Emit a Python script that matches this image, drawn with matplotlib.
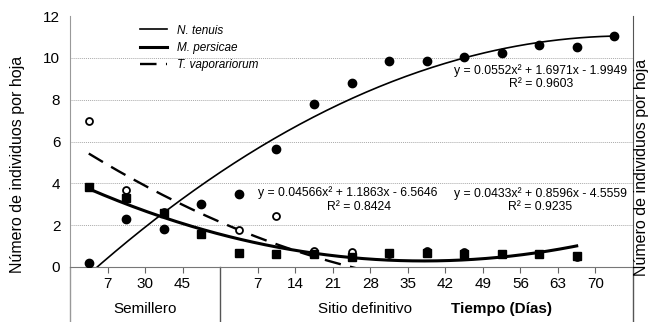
import matplotlib.pyplot as plt
import matplotlib.transforms as mtransforms
import numpy as np

plt.rcParams['font.family'] = ['Liberation Sans', 'DejaVu Sans']

# valores (15 muestreos: 4 en semillero + 11 en sitio definitivo)
n_tenuis = [0.18, 2.3, 1.82, 3.0, 3.48, 5.63, 7.8, 8.8, 9.83, 9.83, 10.06, 10.25, 10.59, 10.51, 11.02]
m_persicae = [3.83, 3.3, 2.6, 1.58, 0.66, 0.62, 0.62, 0.49, 0.66, 0.66, 0.62, 0.62, 0.62, 0.53]
t_vapor = [6.99, 3.68, 2.65, 1.6, 1.77, 2.44, 0.78, 0.7, 0.62, 0.76, 0.73, 0.6, 0.6, 0.5]

# coeficientes de las lineas de tendencia (x = numero de muestreo)
coef_tenuis = [-0.0552, 1.6971, -1.9949]
coef_persicae = [0.0433, -0.8596, 4.5559]
coef_vapor = [0.04566, -1.1863, 6.5646]

eq_tenuis = ['y = 0.0552x² + 1.6971x - 1.9949', 'R² = 0.9603']
eq_vapor = ['y = 0.04566x² + 1.1863x - 6.5646', 'R² = 0.8424']
eq_persicae = ['y = 0.0433x² + 0.8596x - 4.5559', 'R² = 0.9235']

tick_labels = ['7', '30', '45', '7', '14', '21', '28', '35', '42', '49', '56', '63', '70']
tick_pos = [1, 2, 3, 5, 6, 7, 8, 9, 10, 11, 12, 13, 14]

fig = plt.figure(figsize=(6.5, 3.22), dpi=100)
ax = fig.add_axes([70 / 650, 55 / 322, 563 / 650, 251 / 322])

def slots(n):
    return np.arange(n) + 0.5

def trend(coef, n):
    xs = np.linspace(1, n, 200)
    return xs - 0.5, np.polyval(coef, xs)

# tendencias
x, y = trend(coef_tenuis, len(n_tenuis))
ax.plot(x, y, color='black', lw=1.2, label='N. tenuis', zorder=3)
x, y = trend(coef_persicae, len(m_persicae))
ax.plot(x, y, color='black', lw=2.2, label='M. persicae', zorder=3)
x, y = trend(coef_vapor, len(t_vapor))
ax.plot(x, y, color='black', lw=1.7, dashes=(7, 4), label='T. vaporariorum', zorder=3)

# puntos
ax.plot(slots(len(t_vapor)), t_vapor, 'o', ms=5, mfc='white', mec='black', mew=1.3, zorder=4)
ax.plot(slots(len(m_persicae)), m_persicae, 's', ms=5.5, color='black', zorder=5)
ax.plot(slots(len(n_tenuis)), n_tenuis, 'o', ms=6, color='black', zorder=5)

ax.set_xlim(0, 15)
ax.set_ylim(0, 12)
ax.set_yticks(np.arange(0, 13, 2))
ax.set_xticks(tick_pos)
ax.set_xticklabels(tick_labels)
ax.tick_params(axis='y', length=0, labelsize=11, pad=7)
ax.tick_params(axis='x', length=4, color='#666666', labelsize=11, pad=3)

ax.yaxis.grid(True, linestyle=(0, (1, 1)), color='#aaaaaa', lw=0.7)
ax.get_ygridlines()[-1].set_visible(False)
ax.get_ygridlines()[0].set_visible(False)
ax.set_axisbelow(True)

ax.spines['top'].set_visible(False)
ax.spines['left'].set_color('#999999')
ax.spines['bottom'].set_color('#777777')
ax.spines['right'].set_color('#555555')

# lineas de separacion bajo el eje
trans = mtransforms.blended_transform_factory(ax.transData, ax.transAxes)
for xv, c in [(0, '#999999'), (4, '#555555'), (15, '#555555')]:
    ax.plot([xv, xv], [0, -0.25], color=c, lw=1, transform=trans, clip_on=False)

ax.text(2, -0.167, 'Semillero', transform=trans, ha='center', va='center', fontsize=11)
ax.text(7.85, -0.167, 'Sitio definitivo', transform=trans, ha='center', va='center', fontsize=11)
ax.text(11.5, -0.167, 'Tiempo (Días)', transform=trans, ha='center', va='center',
        fontsize=11, fontweight='bold')

# ecuaciones
ax.text(12.55, 9.4, eq_tenuis[0], ha='center', va='center', fontsize=8.8)
ax.text(12.55, 8.75, eq_tenuis[1], ha='center', va='center', fontsize=8.8)
ax.text(7.4, 3.55, eq_vapor[0], ha='center', va='center', fontsize=8.8)
ax.text(7.7, 2.85, eq_vapor[1], ha='center', va='center', fontsize=8.8)
ax.text(12.53, 3.5, eq_persicae[0], ha='center', va='center', fontsize=8.8)
ax.text(12.53, 2.85, eq_persicae[1], ha='center', va='center', fontsize=8.8)

leg = ax.legend(loc='upper left', bbox_to_anchor=(140 / 650, (322 - 24.5) / 322),
                bbox_transform=fig.transFigure, frameon=False,
                prop={'style': 'italic', 'size': 8.5}, handlelength=2.3,
                handletextpad=0.85, labelspacing=0.45, borderpad=0, borderaxespad=0)

fig.text(18 / 650, 0.49, 'Número de individuos por hoja', rotation=90,
         ha='center', va='center', fontsize=11.5)
fig.text(641.5 / 650, 0.48, 'Número de individuos por hoja', rotation=90,
         ha='center', va='center', fontsize=11.5)

fig.savefig('out.png', dpi=100)
